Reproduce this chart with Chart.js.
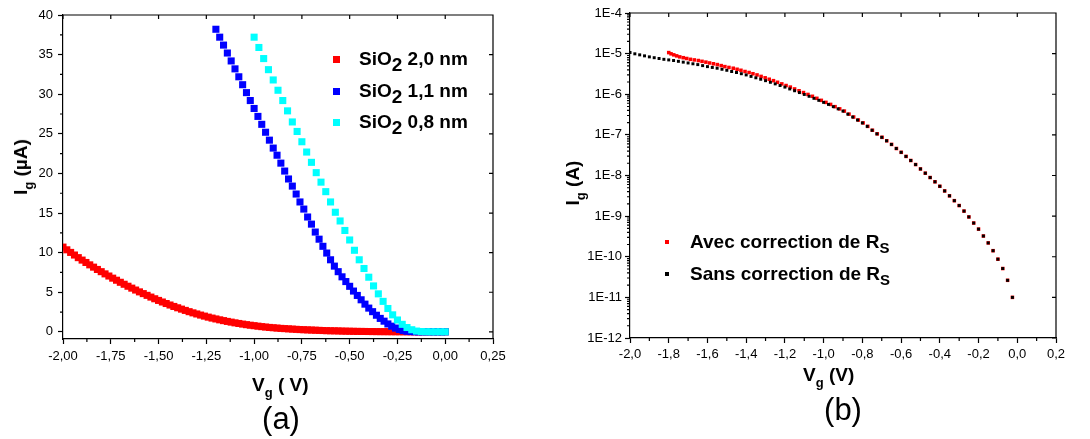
<!DOCTYPE html>
<html>
<head>
<meta charset="utf-8">
<title>Ig(Vg)</title>
<script src="https://cdn.jsdelivr.net/npm/chart.js@4.4.1/dist/chart.umd.min.js"></script>
<style>
    html, body { margin: 0; padding: 0; background: #fff; }
    #page { position: relative; width: 1090px; height: 439px; overflow: hidden; background: #fff;
            font-family: "Liberation Sans", Arial, Helvetica, sans-serif; color: #000; }
    #page canvas { position: absolute; top: 0; }
    #chartA { left: 0; }
    #chartB { left: 545px; }
    .lbl { position: absolute; white-space: nowrap; font-weight: bold; font-size: 19px; line-height: 22px; }
    .sub2 { position: relative; top: 6px; }
    .subS { position: relative; top: 5px; font-size: 15px; }
    .subg { position: relative; top: 6px; font-size: 13px; }
    .rot { transform: translate(-50%, -50%) rotate(-90deg); }
    .panel { position: absolute; white-space: nowrap; font-size: 31px; line-height: 36px;
             transform: translate(-50%, -50%); }
    .mk { position: absolute; }
</style>
</head>
<body>
<div id="page">
    <canvas id="chartA" width="545" height="439"></canvas>
    <canvas id="chartB" width="545" height="439"></canvas>

    <!-- (a) titles + legend -->
    <div class="lbl" style="left:252px; top:374px">V<span class="subg">g</span> ( V)</div>
    <div class="lbl rot" style="left:22px; top:167px">I<span class="subg">g</span> (µA)</div>
    <div class="mk" style="left:333px; top:56px; width:6.6px; height:6.6px; background:#ff0000"></div>
    <div class="mk" style="left:333px; top:88px; width:6.6px; height:6.6px; background:#0000ff"></div>
    <div class="mk" style="left:333px; top:119px; width:6.6px; height:6.6px; background:#00ffff"></div>
    <div class="lbl" style="left:359px; top:48px">SiO<span class="sub2">2</span> 2,0 nm</div>
    <div class="lbl" style="left:359px; top:80px">SiO<span class="sub2">2</span> 1,1 nm</div>
    <div class="lbl" style="left:359px; top:111px">SiO<span class="sub2">2</span> 0,8 nm</div>
    <div class="panel" style="left:281px; top:419px">(a)</div>

    <!-- (b) titles + legend -->
    <div class="lbl" style="left:803px; top:364px">V<span class="subg">g</span> (V)</div>
    <div class="lbl rot" style="left:574px; top:183px">I<span class="subg">g</span> (A)</div>
    <div class="mk" style="left:665px; top:240px; width:3.6px; height:3.6px; background:#ff0000"></div>
    <div class="mk" style="left:665px; top:272px; width:3.6px; height:3.6px; background:#000"></div>
    <div class="lbl" style="left:690px; top:231px">Avec correction de R<span class="subS">S</span></div>
    <div class="lbl" style="left:690px; top:263px">Sans correction de R<span class="subS">S</span></div>
    <div class="panel" style="left:843px; top:410px">(b)</div>
</div>

<script>
// ---- (a) Ig (µA) vs Vg (V), three oxide thicknesses ----
const vgOx20 = [
    -2.00, -1.98, -1.96, -1.94, -1.92, -1.90, -1.88, -1.86, -1.84, -1.82,
    -1.80, -1.78, -1.76, -1.74, -1.72, -1.70, -1.68, -1.66, -1.64, -1.62,
    -1.60, -1.58, -1.56, -1.54, -1.52, -1.50, -1.48, -1.46, -1.44, -1.42,
    -1.40, -1.38, -1.36, -1.34, -1.32, -1.30, -1.28, -1.26, -1.24, -1.22,
    -1.20, -1.18, -1.16, -1.14, -1.12, -1.10, -1.08, -1.06, -1.04, -1.02,
    -1.00, -0.98, -0.96, -0.94, -0.92, -0.90, -0.88, -0.86, -0.84, -0.82,
    -0.80, -0.78, -0.76, -0.74, -0.72, -0.70, -0.68, -0.66, -0.64, -0.62,
    -0.60, -0.58, -0.56, -0.54, -0.52, -0.50, -0.48, -0.46, -0.44, -0.42,
    -0.40, -0.38, -0.36, -0.34, -0.32, -0.30, -0.28, -0.26, -0.24, -0.22,
    -0.20, -0.18, -0.16, -0.14, -0.12, -0.10, -0.08, -0.06, -0.04, -0.02,
    0.00
];
const igOx20 = [
    10.70, 10.36, 10.03, 9.70, 9.37, 9.06, 8.76, 8.46, 8.17, 7.88,
    7.60, 7.32, 7.05, 6.78, 6.52, 6.26, 6.01, 5.76, 5.52, 5.28,
    5.05, 4.83, 4.61, 4.39, 4.18, 3.97, 3.77, 3.58, 3.39, 3.21,
    3.04, 2.87, 2.71, 2.55, 2.40, 2.26, 2.12, 1.99, 1.86, 1.74,
    1.63, 1.52, 1.42, 1.32, 1.23, 1.14, 1.06, 0.98, 0.91, 0.84,
    0.78, 0.72, 0.66, 0.61, 0.56, 0.52, 0.48, 0.44, 0.41, 0.38,
    0.35, 0.32, 0.29, 0.27, 0.25, 0.23, 0.21, 0.19, 0.17, 0.15,
    0.14, 0.13, 0.12, 0.10, 0.09, 0.08, 0.07, 0.06, 0.055, 0.05,
    0.045, 0.04, 0.035, 0.03, 0.028, 0.025, 0.022, 0.02, 0.018, 0.016,
    0.014, 0.012, 0.011, 0.01, 0.01, 0.01, 0.01, 0.01, 0.01, 0.01,
    0.01
];
const vgOx11 = [
    -1.20, -1.18, -1.16, -1.14, -1.12, -1.10, -1.08, -1.06, -1.04, -1.02,
    -1.00, -0.98, -0.96, -0.94, -0.92, -0.90, -0.88, -0.86, -0.84, -0.82,
    -0.80, -0.78, -0.76, -0.74, -0.72, -0.70, -0.68, -0.66, -0.64, -0.62,
    -0.60, -0.58, -0.56, -0.54, -0.52, -0.50, -0.48, -0.46, -0.44, -0.42,
    -0.40, -0.38, -0.36, -0.34, -0.32, -0.30, -0.28, -0.26, -0.24, -0.22,
    -0.20, -0.18, -0.16, -0.14, -0.12, -0.10, -0.08, -0.06, -0.04, -0.02,
    0.00
];
const igOx11 = [
    38.2, 37.2, 36.2, 35.2, 34.2, 33.2, 32.2, 31.2, 30.2, 29.2,
    28.2, 27.2, 26.2, 25.2, 24.2, 23.2, 22.3, 21.3, 20.3, 19.3,
    18.4, 17.4, 16.4, 15.5, 14.5, 13.6, 12.6, 11.7, 10.8, 9.95,
    9.1, 8.3, 7.6, 6.95, 6.35, 5.75, 5.15, 4.6, 4.05, 3.5,
    3.0, 2.55, 2.1, 1.7, 1.35, 1.0, 0.72, 0.48, 0.3, 0.16,
    0.08, 0.04, 0.02, 0.01, 0.01, 0.01, 0.01, 0.01, 0.01, 0.01,
    0.01
];
const vgOx08 = [
    -1.000, -0.975, -0.950, -0.925, -0.900, -0.875, -0.850, -0.825, -0.800, -0.775,
    -0.750, -0.725, -0.700, -0.675, -0.650, -0.625, -0.600, -0.575, -0.550, -0.525,
    -0.500, -0.475, -0.450, -0.425, -0.400, -0.375, -0.350, -0.325, -0.300, -0.275,
    -0.250, -0.225, -0.200, -0.175, -0.150, -0.125, -0.100, -0.075, -0.050, -0.025,
    0.000
];
const igOx08 = [
    37.2, 35.9, 34.5, 33.1, 31.8, 30.5, 29.2, 27.9, 26.5, 25.3,
    24.0, 22.7, 21.4, 20.1, 18.9, 17.7, 16.4, 15.1, 14.0, 12.8,
    11.6, 10.3, 9.1, 8.0, 6.9, 5.8, 4.8, 3.85, 2.95, 2.15,
    1.5, 0.95, 0.55, 0.27, 0.1, 0.04, 0.02, 0.01, 0.01, 0.01,
    0.01
];
const xTicksA = [-2, -1.75, -1.5, -1.25, -1, -0.75, -0.5, -0.25, 0, 0.25];
const xLabelsA = ['-2,00', '-1,75', '-1,50', '-1,25', '-1,00', '-0,75', '-0,50', '-0,25', '0,00', '0,25'];
const yTicksA = [0, 5, 10, 15, 20, 25, 30, 35, 40];
const yLabelsA = ['0', '5', '10', '15', '20', '25', '30', '35', '40'];

// ---- (b) Ig (A) vs Vg (V), log scale, with / without Rs correction ----
const vgSans = [
    -2.000, -1.975, -1.950, -1.925, -1.900, -1.875, -1.850, -1.825, -1.800, -1.775,
    -1.750, -1.725, -1.700, -1.675, -1.650, -1.625, -1.600, -1.575, -1.550, -1.525,
    -1.500, -1.475, -1.450, -1.425, -1.400, -1.375, -1.350, -1.325, -1.300, -1.275,
    -1.250, -1.225, -1.200, -1.175, -1.150, -1.125, -1.100, -1.075, -1.050, -1.025,
    -1.000, -0.975, -0.950, -0.925, -0.900, -0.875, -0.850, -0.825, -0.800, -0.775,
    -0.750, -0.725, -0.700, -0.675, -0.650, -0.625, -0.600, -0.575, -0.550, -0.525,
    -0.500, -0.475, -0.450, -0.425, -0.400, -0.375, -0.350, -0.325, -0.300, -0.275,
    -0.250, -0.225, -0.200, -0.175, -0.150, -0.125, -0.100, -0.075, -0.050, -0.025
];
const igSans = [
    1.06e-5, 9.89e-6, 9.33e-6, 8.81e-6, 8.32e-6, 7.94e-6, 7.59e-6, 7.24e-6, 7.00e-6, 6.76e-6,
    6.46e-6, 6.17e-6, 5.89e-6, 5.62e-6, 5.37e-6, 5.07e-6, 4.79e-6, 4.57e-6, 4.37e-6, 4.12e-6,
    3.89e-6, 3.63e-6, 3.43e-6, 3.20e-6, 2.99e-6, 2.75e-6, 2.54e-6, 2.34e-6, 2.16e-6, 1.97e-6,
    1.80e-6, 1.64e-6, 1.50e-6, 1.35e-6, 1.22e-6, 1.10e-6, 9.89e-7, 8.91e-7, 7.94e-7, 7.08e-7,
    6.31e-7, 5.62e-7, 4.95e-7, 4.37e-7, 3.85e-7, 3.24e-7, 2.75e-7, 2.32e-7, 1.97e-7, 1.62e-7,
    1.30e-7, 1.06e-7, 8.71e-8, 7.16e-8, 5.82e-8, 4.62e-8, 3.72e-8, 2.95e-8, 2.34e-8, 1.86e-8,
    1.45e-8, 1.14e-8, 8.91e-9, 7.00e-9, 5.43e-9, 4.17e-9, 3.16e-9, 2.40e-9, 1.82e-9, 1.33e-9,
    9.55e-10, 6.76e-10, 4.79e-10, 3.24e-10, 2.19e-10, 1.41e-10, 8.71e-11, 5.13e-11, 2.63e-11, 1.00e-11
];
// corrected points: same currents, Vg shifted right (most at high current)
const vgAvec = [
    -1.800, -1.788, -1.774, -1.759, -1.743, -1.725, -1.707, -1.688, -1.668, -1.647,
    -1.628, -1.608, -1.589, -1.569, -1.549, -1.529, -1.510, -1.489, -1.467, -1.447,
    -1.427, -1.406, -1.385, -1.365, -1.344, -1.323, -1.302, -1.281, -1.259, -1.238,
    -1.216, -1.194, -1.172, -1.150, -1.127, -1.104, -1.081, -1.058, -1.035, -1.012,
    -0.988, -0.964, -0.941, -0.917, -0.893, -0.869, -0.845, -0.821, -0.796, -0.772,
    -0.748, -0.723, -0.698, -0.674, -0.649, -0.624, -0.599, -0.574, -0.550, -0.525,
    -0.500, -0.475, -0.450, -0.425, -0.400, -0.375, -0.350, -0.325, -0.300, -0.275,
    -0.250, -0.225, -0.200, -0.175, -0.150, -0.125, -0.100, -0.075, -0.050, -0.025
];
const igAvec = igSans;
const xTicksB = [-2, -1.8, -1.6, -1.4, -1.2, -1, -0.8, -0.6, -0.4, -0.2, 0, 0.2];
const xLabelsB = ['-2,0', '-1,8', '-1,6', '-1,4', '-1,2', '-1,0', '-0,8', '-0,6', '-0,4', '-0,2', '0,0', '0,2'];
const yTicksB = [1e-12, 1e-11, 1e-10, 1e-9, 1e-8, 1e-7, 1e-6, 1e-5, 1e-4];
const yLabelsB = ['1E-12', '1E-11', '1E-10', '1E-9', '1E-8', '1E-7', '1E-6', '1E-5', '1E-4'];

let chartA;
let chartB;

Chart.defaults.font.family = '"Liberation Sans", Arial, Helvetica, sans-serif';
Chart.defaults.color = '#000';

function pts(xs, ys) {
    return xs.map((x, i) => ({ x: x, y: ys[i] }));
}

// frame on top/right, inward major ticks there, short outward minor ticks
const frameTicks = {
    id: 'frameTicks',
    afterDraw(chart) {
        const { ctx, chartArea: a } = chart;
        const x = chart.scales.x;
        const y = chart.scales.y;
        ctx.save();
        ctx.strokeStyle = '#000';
        ctx.lineWidth = 1.2;
        ctx.beginPath();
        ctx.moveTo(a.left, a.top);
        ctx.lineTo(a.right, a.top);
        ctx.lineTo(a.right, a.bottom);
        x.ticks.forEach(t => {
            const p = x.getPixelForValue(t.value);
            ctx.moveTo(p, a.top);
            ctx.lineTo(p, a.top + 4);
        });
        y.ticks.forEach(t => {
            const p = y.getPixelForValue(t.value);
            ctx.moveTo(a.right, p);
            ctx.lineTo(a.right - 4, p);
        });
        const xv = x.ticks.map(t => t.value);
        for (let i = 0; i < xv.length - 1; i++) {
            const p = x.getPixelForValue((xv[i] + xv[i + 1]) / 2);
            ctx.moveTo(p, a.bottom);
            ctx.lineTo(p, a.bottom + 3);
        }
        const yv = y.ticks.map(t => t.value);
        for (let i = 0; i < yv.length - 1; i++) {
            if (y.type === 'logarithmic') {
                for (let m = 2; m < 10; m++) {
                    const p = y.getPixelForValue(yv[i] * m);
                    ctx.moveTo(a.left, p);
                    ctx.lineTo(a.left - 3, p);
                }
            } else {
                const p = y.getPixelForValue((yv[i] + yv[i + 1]) / 2);
                ctx.moveTo(a.left, p);
                ctx.lineTo(a.left - 3, p);
            }
        }
        ctx.stroke();
        ctx.restore();
    }
};

function axis(tickVals, tickLabels, size, pad, extra) {
    return Object.assign({
        afterBuildTicks: s => { s.ticks = tickVals.map(v => ({ value: v })); },
        afterFit: s => {
            if (s.isHorizontal()) s.height = size; else s.width = size;
        },
        ticks: {
            callback: (v, i) => tickLabels[i],
            color: '#000',
            font: { size: 13 },
            padding: pad,
            autoSkip: false,
            maxRotation: 0
        },
        grid: { drawOnChartArea: false, drawTicks: true, tickLength: 5, tickColor: '#000', tickWidth: 1.2 },
        border: { display: true, color: '#000', width: 1.2 }
    }, extra);
}

function dataset(label, xs, ys, color, radius, order) {
    return {
        label: label,
        data: pts(xs, ys),
        pointStyle: 'rect',
        pointRadius: radius,
        pointBorderWidth: 0,
        backgroundColor: color,
        borderColor: color,
        showLine: false,
        order: order
    };
}

document.addEventListener('DOMContentLoaded', () => {
    initCharts();
});

function initCharts() {
    const ctxA = document.getElementById('chartA').getContext('2d');
    chartA = new Chart(ctxA, {
        type: 'scatter',
        data: {
            datasets: [
                dataset('SiO2 2,0 nm', vgOx20, igOx20, '#ff0000', 5, 3),
                dataset('SiO2 1,1 nm', vgOx11, igOx11, '#0000ff', 5, 2),
                dataset('SiO2 0,8 nm', vgOx08, igOx08, '#00ffff', 5, 1)
            ]
        },
        options: {
            responsive: false,
            animation: false,
            layout: { padding: { left: 0, top: 15, right: 52, bottom: 0 } },
            scales: {
                x: axis(xTicksA, xLabelsA, 100, 5, { type: 'linear', min: -2, max: 0.25 }),
                y: axis(yTicksA, yLabelsA, 63, 5, { type: 'linear', min: -0.9, max: 40 })
            },
            plugins: { legend: { display: false }, tooltip: { enabled: false } }
        },
        plugins: [frameTicks]
    });

    const ctxB = document.getElementById('chartB').getContext('2d');
    chartB = new Chart(ctxB, {
        type: 'scatter',
        data: {
            datasets: [
                dataset('Avec correction de Rs', vgAvec, igAvec, '#ff0000', 2.5, 2),
                dataset('Sans correction de Rs', vgSans, igSans, '#000000', 2.1, 1)
            ]
        },
        options: {
            responsive: false,
            animation: false,
            layout: { padding: { left: 0, top: 13, right: 34, bottom: 0 } },
            scales: {
                x: axis(xTicksB, xLabelsB, 101, 4, { type: 'linear', min: -2, max: 0.2 }),
                y: axis(yTicksB, yLabelsB, 85, 3, { type: 'logarithmic', min: 1e-12, max: 1e-4 })
            },
            plugins: { legend: { display: false }, tooltip: { enabled: false } }
        },
        plugins: [frameTicks]
    });
}
</script>
</body>
</html>
